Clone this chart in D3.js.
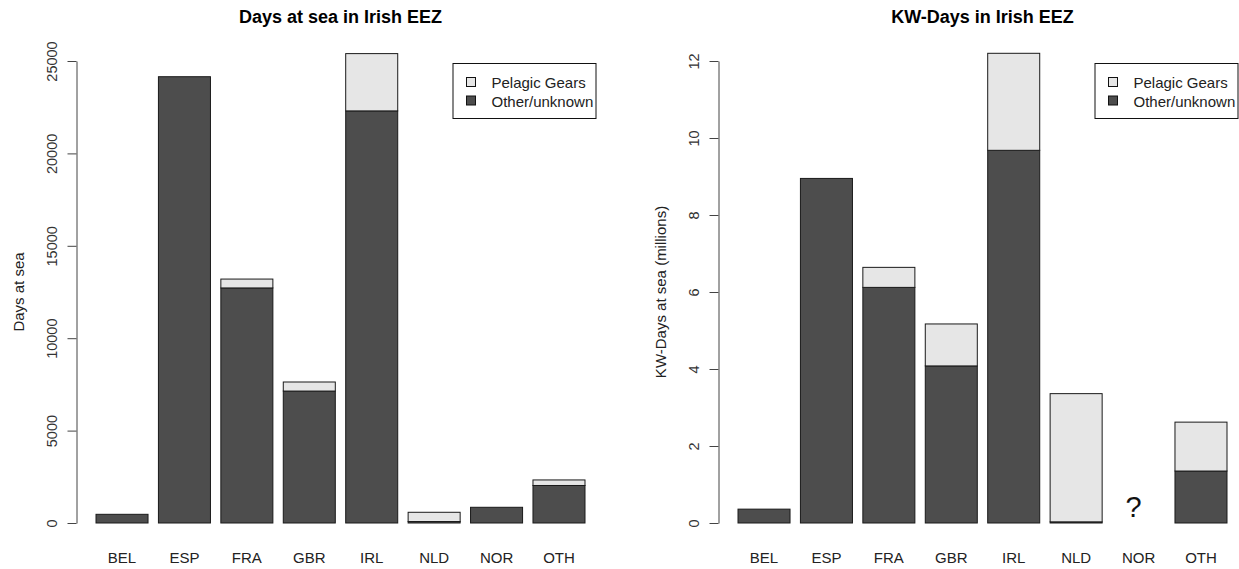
<!DOCTYPE html>
<html><head><meta charset="utf-8">
<script src="https://cdn.jsdelivr.net/npm/d3@7"></script>
<style>body{margin:0;background:#fff}svg{display:block;font-family:"Liberation Sans",Arial,sans-serif}</style>
</head><body><svg id="c" width="1239" height="569"></svg>
<script>
const categories = ["BEL","ESP","FRA","GBR","IRL","NLD","NOR","OTH"];
const seriesNames = ["Pelagic Gears","Other/unknown"];
// Days at sea
const daysOther   = [470, 24150, 12720, 7140, 22300, 80, 850, 2030];
const daysPelagic = [0, 0, 480, 490, 3100, 500, 0, 300];
// KW-Days (millions)
const kwOther   = [0.36, 8.95, 6.12, 4.08, 9.68, 0.03, null, 1.35];
const kwPelagic = [0, 0, 0.52, 1.09, 2.52, 3.33, null, 1.27];
const daysTicks = [0, 5000, 10000, 15000, 20000, 25000];
const kwTicks = [0, 2, 4, 6, 8, 10, 12];

const svg = d3.select("#c");
const DARK = "#4d4d4d", LIGHT = "#e6e6e6";

function panel(opts){
  const {left, right, title, ylabel, other, pelagic, domain, ticks, missingMark} = opts;
  const g = svg.append("g");
  const x = d3.scaleBand().domain(categories).range([left, right])
    .paddingInner(1/6).paddingOuter(0.3125);
  const y = d3.scaleLinear().domain(domain).range([523, 61]);

  categories.forEach((c, i) => {
    const o = other[i], p = pelagic[i];
    if (o == null) {
      if (missingMark) g.append("text").attr("x", x(c) + x.bandwidth()/2 - 5).attr("y", 517)
        .attr("text-anchor","middle").attr("font-size", 29).attr("fill","#111").text("?");
      return;
    }
    g.append("rect").attr("x", x(c)).attr("width", x.bandwidth())
      .attr("y", y(o)).attr("height", y(0) - y(o))
      .attr("fill", DARK).attr("stroke", "#1a1a1a").attr("stroke-width", 1);
    if (p > 0) g.append("rect").attr("x", x(c)).attr("width", x.bandwidth())
      .attr("y", y(o + p)).attr("height", y(o) - y(o + p))
      .attr("fill", LIGHT).attr("stroke", "#1a1a1a").attr("stroke-width", 1);
  });

  categories.forEach(c => {
    g.append("text").attr("x", x(c) + x.bandwidth()/2).attr("y", 563)
      .attr("text-anchor","middle").attr("font-size", 15).attr("fill","#222").text(c);
  });

  const ax = g.append("g").attr("transform", `translate(${left},0)`)
    .call(d3.axisLeft(y).tickValues(ticks).tickSize(9).tickSizeOuter(0).tickFormat(d3.format("d")));
  ax.select(".domain").attr("stroke","#444");
  ax.selectAll(".tick line").attr("stroke","#444");
  ax.selectAll(".tick text").attr("font-size", 14.5).attr("fill","#333")
    .attr("font-family", '"Liberation Sans",Arial,sans-serif')
    .attr("text-anchor","middle").attr("x", null).attr("y", null).attr("dy", 0)
    .attr("transform", "translate(-19.5,0) rotate(-90)");

  g.append("text").attr("transform", `translate(${left - 53},${(523+61)/2}) rotate(-90)`)
    .attr("text-anchor","middle").attr("font-size", 15).attr("fill","#222").text(ylabel);

  g.append("text").attr("x", (left + right)/2).attr("y", 23).attr("text-anchor","middle")
    .attr("font-size", 18).attr("font-weight","bold").attr("fill","#000").text(title);

  const lx = right - 151.5, ly = 63.5;
  g.append("rect").attr("x", lx).attr("y", ly).attr("width", 143).attr("height", 55)
    .attr("fill","#fff").attr("stroke","#111").attr("stroke-width",1);
  [LIGHT, DARK].forEach((col, i) => {
    g.append("rect").attr("x", lx + 13.5).attr("y", ly + 14 + i*18.5).attr("width", 9).attr("height", 9)
      .attr("fill", col).attr("stroke","#111");
    g.append("text").attr("x", lx + 38.5).attr("y", ly + 24.5 + i*18.5).attr("font-size", 15)
      .attr("fill","#222").text(seriesNames[i]);
  });
}

panel({left: 76.5, right: 604.5, title: "Days at sea in Irish EEZ", ylabel: "Days at sea",
  other: daysOther, pelagic: daysPelagic, domain: [0, 25000], ticks: daysTicks});
panel({left: 718.5, right: 1246.5, title: "KW-Days in Irish EEZ", ylabel: "KW-Days at sea (millions)",
  other: kwOther, pelagic: kwPelagic, domain: [0, 12], ticks: kwTicks, missingMark: true});
</script></body></html>
